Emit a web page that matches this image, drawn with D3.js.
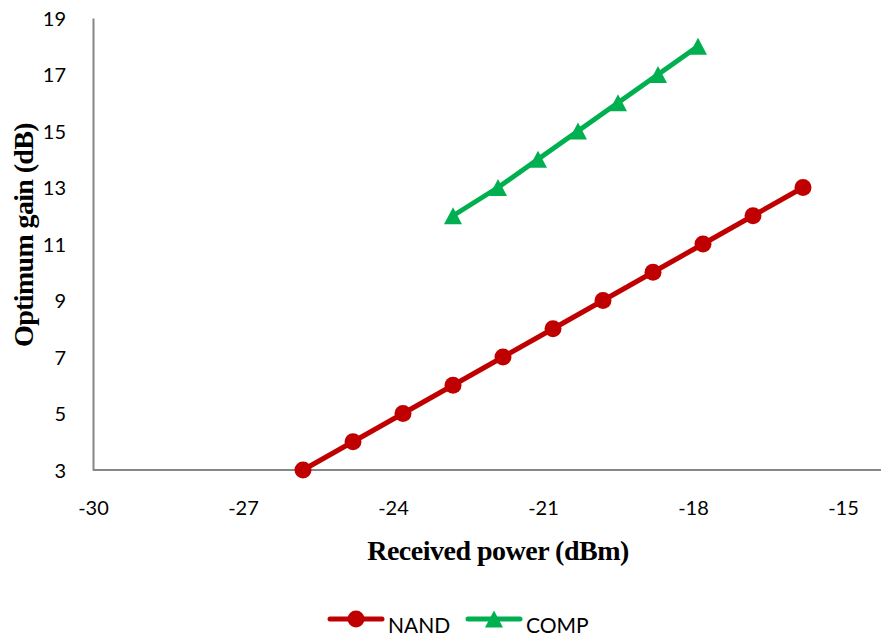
<!DOCTYPE html>
<html>
<head>
<meta charset="utf-8">
<script src="https://cdn.jsdelivr.net/npm/d3@7"></script>
<style>
  html, body { margin: 0; padding: 0; background: #fff; }
  svg { display: block; }
</style>
</head>
<body>
<svg id="chart" width="881" height="637"></svg>
<script>
// Received power (dBm) vs optimum gain (dB)
const nandPower = [-25.8, -24.8, -23.8, -22.8, -21.8, -20.8, -19.8, -18.8, -17.8, -16.8, -15.8];
const nandGain  = [3, 4, 5, 6, 7, 8, 9, 10, 11, 12, 13];
const compPower = [-22.8, -21.9, -21.1, -20.3, -19.5, -18.7, -17.9];
const compGain  = [12, 13, 14, 15, 16, 17, 18];
const xTicks = [-30, -27, -24, -21, -18, -15];
const yTicks = [3, 5, 7, 9, 11, 13, 15, 17, 19];
const seriesNames = ["NAND", "COMP"];

const colors = { NAND: "#C00000", COMP: "#00B050" };
const tickFont = "Lato, 'Open Sans', sans-serif";
const titleFont = "'Liberation Serif', 'Times New Roman', serif";

const svg = d3.select("#chart");

const x = d3.scaleLinear().domain([-30, -14]).range([93, 893]);
const y = d3.scaleLinear().domain([3, 19]).range([470, 18]);

// Plain hyphen-minus labels
const plainFormat = d => String(d);

// Axes (no tick marks, grey domain line)
const xAxis = svg.append("g")
  .attr("transform", `translate(0,${y(3)})`)
  .call(d3.axisBottom(x).tickValues(xTicks).tickSize(0).tickPadding(0).tickFormat(plainFormat));
xAxis.select(".domain").attr("stroke", "#868686").attr("stroke-width", 2).attr("d", `M${x(-30)},0H881`);
xAxis.selectAll("text")
  .attr("y", 45).attr("dy", 0)
  .attr("font-family", tickFont).attr("font-size", 20).attr("fill", "#000");

const yAxis = svg.append("g")
  .attr("transform", `translate(${x(-30)},0)`)
  .call(d3.axisLeft(y).tickValues(yTicks).tickSize(0).tickPadding(0).tickFormat(plainFormat));
yAxis.select(".domain").attr("stroke", "#868686").attr("stroke-width", 2);
yAxis.selectAll("text")
  .attr("x", -27).attr("dy", "0.35em")
  .attr("font-family", tickFont).attr("font-size", 20).attr("fill", "#000");

// Axis titles
svg.append("text")
  .attr("x", 498).attr("y", 560)
  .attr("text-anchor", "middle")
  .attr("font-family", titleFont).attr("font-weight", "bold").attr("font-size", 28)
  .attr("letter-spacing", -0.5)
  .text("Received power (dBm)");

svg.append("text")
  .attr("transform", `translate(33,235) rotate(-90)`)
  .attr("text-anchor", "middle")
  .attr("font-family", titleFont).attr("font-weight", "bold").attr("font-size", 28)
  .attr("letter-spacing", -0.65)
  .text("Optimum gain (dB)");

const line = d3.line().x(d => x(d[0])).y(d => y(d[1]));
const nandData = nandPower.map((p, i) => [p, nandGain[i]]);
const compData = compPower.map((p, i) => [p, compGain[i]]);

// Triangle marker centred on its bounding box
const boxTriangle = {
  draw(context, size) {
    const h = Math.sqrt(size);
    context.moveTo(0, -h / 2);
    context.lineTo(h * 0.53, h / 2);
    context.lineTo(-h * 0.53, h / 2);
    context.closePath();
  }
};
const triangle = d3.symbol().type(boxTriangle).size(17 * 17);

// NAND series
svg.append("path").datum(nandData)
  .attr("d", line).attr("fill", "none")
  .attr("stroke", colors.NAND).attr("stroke-width", 5).attr("stroke-linejoin", "round");
svg.append("g").selectAll("circle").data(nandData).join("circle")
  .attr("cx", d => x(d[0])).attr("cy", d => y(d[1])).attr("r", 8.5)
  .attr("fill", colors.NAND);

// COMP series
svg.append("path").datum(compData)
  .attr("d", line).attr("fill", "none")
  .attr("stroke", colors.COMP).attr("stroke-width", 5).attr("stroke-linejoin", "round");
svg.append("g").selectAll("path").data(compData).join("path")
  .attr("d", triangle)
  .attr("transform", d => `translate(${x(d[0])},${y(d[1])})`)
  .attr("fill", colors.COMP);

// Legend
const legendItems = [
  { name: seriesNames[0], x0: 330, marker: "circle" },
  { name: seriesNames[1], x0: 468, marker: "triangle" }
];
const legend = svg.append("g");
legendItems.forEach(item => {
  const g = legend.append("g").attr("transform", `translate(${item.x0},619)`);
  g.append("line").attr("x1", 0).attr("x2", 52).attr("y1", 0).attr("y2", 0)
    .attr("stroke", colors[item.name]).attr("stroke-width", 5).attr("stroke-linecap", "round");
  if (item.marker === "circle") {
    g.append("circle").attr("cx", 26).attr("cy", 0).attr("r", 8.5).attr("fill", colors[item.name]);
  } else {
    g.append("path").attr("d", triangle).attr("transform", "translate(26,0)").attr("fill", colors[item.name]);
  }
  g.append("text").attr("x", 58).attr("y", 14)
    .attr("font-family", tickFont).attr("font-size", 21).attr("fill", "#000")
    .text(item.name);
});
</script>
</body>
</html>
